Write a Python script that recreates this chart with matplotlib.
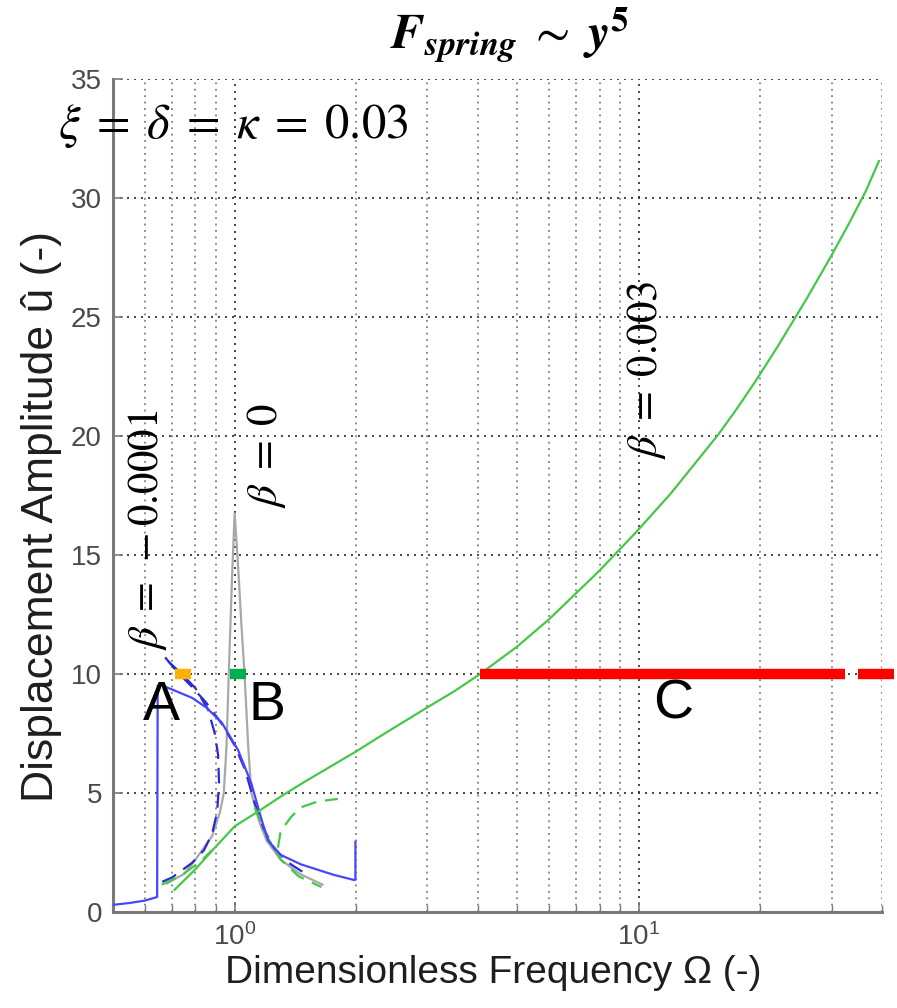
import matplotlib
matplotlib.use("Agg")
import matplotlib.pyplot as plt
from matplotlib.ticker import LogLocator, NullFormatter, FixedLocator

# ---------------- data ----------------
# beta = -0.0001 : simulated sweep (solid blue)
omega_blue_sim = [0.50, 0.55, 0.60, 0.643, 0.645, 0.654, 0.70, 0.784, 0.85, 0.93, 1.02,
                  1.10, 1.165, 1.21, 1.30, 1.46, 1.76, 1.97, 1.99, 1.99]
amp_blue_sim = [0.30, 0.38, 0.48, 0.63, 9.50, 9.55, 9.35, 9.00, 8.60, 7.95, 6.80,
                5.40, 3.90, 3.00, 2.40, 2.00, 1.56, 1.35, 1.35, 2.95]

# beta = -0.0001 : analytic branches (dashed blue)
omega_blue_loop = [0.662, 0.70, 0.784, 0.84, 0.88, 0.905, 0.915, 0.91, 0.893, 0.86, 0.80, 0.74, 0.673]
amp_blue_loop = [1.27, 1.45, 2.06, 2.60, 3.30, 4.20, 5.40, 6.60, 7.50, 8.50, 9.40, 10.0, 10.65]
omega_blue_upper = [0.673, 0.72, 0.78, 0.85, 0.93, 1.00, 1.06, 1.12, 1.18, 1.25, 1.35, 1.50]
amp_blue_upper = [10.70, 10.10, 9.50, 8.80, 7.90, 7.00, 6.00, 4.60, 3.50, 2.70, 2.10, 1.60]

# beta = 0 : linear response (grey)
omega_gray = [0.68, 0.75, 0.80, 0.88, 0.92, 0.94, 0.955, 0.967, 0.985, 1.00, 1.02, 1.04,
              1.058, 1.08, 1.10, 1.15, 1.20, 1.30, 1.45, 1.65]
amp_gray = [1.20, 1.60, 2.20, 3.20, 4.20, 5.00, 7.00, 10.0, 14.0, 16.75, 14.5, 12.0,
            10.0, 7.00, 5.00, 3.80, 3.00, 2.20, 1.60, 1.15]

# beta = 0.003 : simulated sweep (solid green)
omega_green_sim = [0.71, 0.80, 0.893, 1.00, 1.15, 1.30, 1.50, 2.00, 2.30, 3.00, 3.50, 4.05,
                   5.00, 6.00, 7.97, 9.84, 12.0, 15.7, 17.5, 19.4, 22.0, 26.0, 29.8,
                   33.0, 36.5, 39.3]
amp_green_sim = [0.93, 1.80, 2.70, 3.60, 4.25, 4.85, 5.50, 6.75, 7.40, 8.60, 9.28, 10.0,
                 11.15, 12.3, 14.32, 15.95, 17.58, 20.04, 21.15, 22.27, 23.72, 25.75, 27.5,
                 28.87, 30.3, 31.55]

# beta = 0.003 : analytic branches (dashed green)
omega_green_left = [0.66, 0.74, 0.82, 0.88]
amp_green_left = [1.15, 1.55, 2.10, 2.60]
omega_green_low = [1.12, 1.20, 1.30, 1.44, 1.64]
amp_green_low = [4.40, 3.20, 2.20, 1.50, 1.05]
omega_green_up = [1.28, 1.30, 1.38, 1.46, 1.61, 1.80]
amp_green_up = [2.70, 3.40, 4.00, 4.40, 4.65, 4.75]

# annotation bars at amplitude 10
bar_level = 10
omega_bar_A = [0.712, 0.780]
omega_bar_B = [0.972, 1.064]
omega_bar_C = [4.05, 32.4]
omega_bar_C2 = [34.9, 42.8]

y_ticks = [0, 5, 10, 15, 20, 25, 30, 35]

# ---------------- figure ----------------
W, H = 897, 1008
regular = ['Liberation Sans', 'DejaVu Sans']
plt.rcParams['font.family'] = regular

fig = plt.figure(figsize=(W / 100, H / 100), dpi=100)
L, R, T, B = 113, 882, 79, 912
ax = fig.add_axes([L / W, 1 - B / H, (R - L) / W, (B - T) / H])
ax.set_xscale('log')
ax.set_xlim(0.5, 40)
ax.set_ylim(0, 35)

blue = '#4646ff'
blue_d = '#2a2ad6'
green = '#46c846'
gray = '#a8a8a8'

ax.plot(omega_gray, amp_gray, color=gray, lw=1.6, zorder=3)
ax.plot(omega_blue_loop, amp_blue_loop, color=blue_d, lw=1.6, ls=(0, (7, 4)), zorder=4)
ax.plot(omega_blue_upper, amp_blue_upper, color=blue_d, lw=1.6, ls=(0, (7, 4)), zorder=4)
ax.plot(omega_blue_sim, amp_blue_sim, color=blue, lw=1.6, zorder=5)
ax.plot(omega_green_left, amp_green_left, color=green, lw=1.6, ls=(0, (7, 4)), zorder=4)
ax.plot(omega_green_low, amp_green_low, color=green, lw=1.6, ls=(0, (7, 4)), zorder=4)
ax.plot(omega_green_up, amp_green_up, color=green, lw=1.6, ls=(0, (7, 4)), zorder=4)
ax.plot(omega_green_sim, amp_green_sim, color=green, lw=1.6, zorder=5)

ax.plot(omega_bar_A, [bar_level] * 2, color='#ffb000', lw=7.5, solid_capstyle='butt', zorder=6)
ax.plot(omega_bar_B, [bar_level] * 2, color='#00b050', lw=7.5, solid_capstyle='butt', zorder=6)
ax.plot(omega_bar_C, [bar_level] * 2, color='#ff0000', lw=7.5, solid_capstyle='butt', zorder=6)
ax.plot(omega_bar_C2, [bar_level] * 2, color='#ff0000', lw=7.5, solid_capstyle='butt',
        zorder=6, clip_on=False)

# grid
ax.xaxis.set_major_locator(LogLocator(base=10))
ax.xaxis.set_minor_locator(LogLocator(base=10, subs=[2, 3, 4, 5, 6, 7, 8, 9]))
ax.xaxis.set_minor_formatter(NullFormatter())
ax.yaxis.set_major_locator(FixedLocator(y_ticks))
dots = (0, (1.2, 3.0))
ax.grid(True, which='major', axis='both', color='#2a2a2a', ls=dots, lw=1.2)
ax.grid(True, which='minor', axis='x', color='#6a6a6a', ls=dots, lw=1.1)

for s in ['top', 'right']:
    ax.spines[s].set_visible(False)
for s in ['left', 'bottom']:
    ax.spines[s].set_color('#7a7a7a')
    ax.spines[s].set_linewidth(2.2)
ax.tick_params(which='major', direction='in', length=7, width=1.2, color='#7a7a7a',
               labelsize=20, labelcolor='#4a4a4a', pad=8)
ax.tick_params(which='minor', direction='in', length=5, width=1.0, color='#7a7a7a')

ax.set_xlabel('Dimensionless Frequency Ω (-)', fontsize=28, color='#1e1e1e')
ax.set_ylabel('Displacement Amplitude û (-)', fontsize=32, color='#1e1e1e')
ax.xaxis.set_label_coords(0.494, -0.052)
ax.yaxis.set_label_coords(-0.066, 0.475)

# curve labels
beta_kw = dict(rotation=90, ha='center', va='center', fontsize=31,
               math_fontfamily='stix', color='black')
ax.text(0.608, 16.05, r'$\beta\;=\;-0.0001$', **beta_kw)
ax.text(1.198, 19.2, r'$\beta\;=\;0$', **beta_kw)
ax.text(10.45, 22.8, r'$\beta\;=\;0.003$', **beta_kw)

# point letters
for lab, xo, yo in [('A', 0.659, 8.07), ('B', 1.205, 8.07), ('C', 12.2, 8.15)]:
    ax.text(xo, yo, lab, ha='center', va='baseline', fontsize=40,
            color='black', zorder=7)

# parameter text and title
fig.text(58 / W, 1 - 138 / H, r'$\xi\;=\;\delta\;=\;\kappa\;=\;0.03$', fontsize=35,
         math_fontfamily='stix', ha='left', va='baseline', color='black')
fig.text(390 / W, 1 - 49 / H,
         r'$\mathbfit{F_{spring}}\;\sim\;\mathbfit{y}^{\mathbf{5}}$',
         fontsize=36, math_fontfamily='stix', ha='left', va='baseline', color='black')

fig.savefig('out.png', dpi=100)
